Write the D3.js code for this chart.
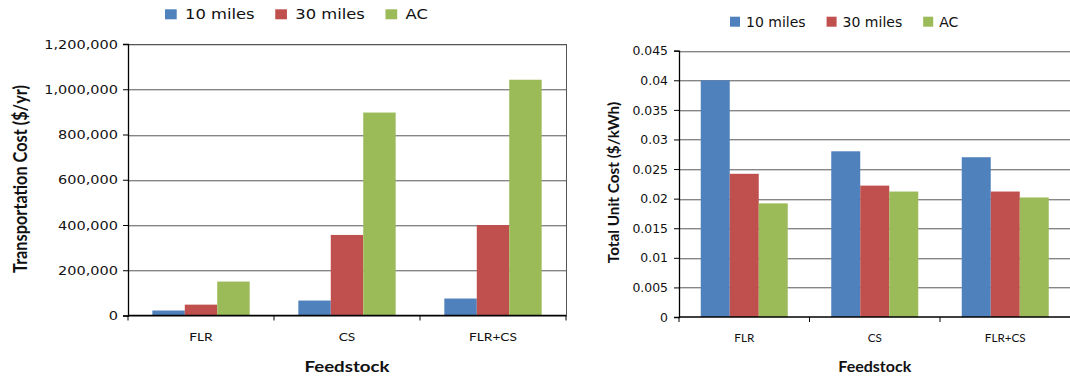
<!DOCTYPE html>
<html><head><meta charset="utf-8">
<script src="https://cdn.jsdelivr.net/npm/d3@7"></script>
<style>body{margin:0;background:#fff} svg{display:block}</style>
</head><body>
<svg id="c" width="1070" height="379"></svg>
<script>
// ---- data ----
const categories = ["FLR", "CS", "FLR+CS"];
const seriesNames = ["10 miles", "30 miles", "AC"];
const transport10 = [22000, 66000, 75000];
const transport30 = [48000, 356000, 400000];
const transportAC = [150000, 897000, 1042000];
const unit10 = [0.040, 0.028, 0.027];
const unit30 = [0.0242, 0.0222, 0.0212];
const unitAC = [0.0192, 0.0212, 0.0202];
const transportTicks = [0, 200000, 400000, 600000, 800000, 1000000, 1200000];
const unitTicks = [0, 0.005, 0.01, 0.015, 0.02, 0.025, 0.03, 0.035, 0.04, 0.045];
const colors = ["#4F81BD", "#C0504D", "#9BBB59"];

const svg = d3.select("#c");
const TICKFONT = "'DejaVu Sans', Verdana, sans-serif";
const TITLEFONT = "Lato, 'Open Sans', sans-serif";

function drawChart(cfg) {
  const g = svg.append("g");
  const x = d3.scaleBand().domain(categories).range([cfg.left, cfg.right]);
  const inner = d3.scaleBand().domain(seriesNames).range([0, x.bandwidth()]).paddingInner(0).paddingOuter(0.75);
  const y = d3.scaleLinear().domain([0, cfg.max]).range([cfg.bottom, cfg.top]);
  const sx = cfg.sx;

  // gridlines
  cfg.ticks.filter(t => t > 0).forEach(t => {
    const yy = Math.round(y(t));
    g.append("line").attr("x1", cfg.left).attr("x2", cfg.right).attr("y1", yy + 1.5).attr("y2", yy + 1.5)
      .attr("stroke", "#d0d0d0").attr("stroke-width", 1);
    g.append("line").attr("x1", cfg.left).attr("x2", cfg.right).attr("y1", yy + 0.5).attr("y2", yy + 0.5)
      .attr("stroke", "#868686").attr("stroke-width", 1);
  });
  if (cfg.border) {
    g.append("rect").attr("x", cfg.left + 0.5).attr("y", Math.round(cfg.top) + 0.5)
      .attr("width", cfg.right - cfg.left).attr("height", cfg.bottom - cfg.top)
      .attr("fill", "none").attr("stroke", "#555").attr("stroke-width", 1);
  }

  // bars
  const series = cfg.series;
  seriesNames.forEach((s, si) => {
    g.selectAll(null).data(series[si]).enter().append("rect")
      .attr("x", (d, i) => x(categories[i]) + inner(s))
      .attr("width", inner.bandwidth())
      .attr("y", d => y(d))
      .attr("height", d => y(0) - y(d))
      .attr("fill", colors[si]);
  });

  // y axis
  const ya = g.append("g").attr("transform", `translate(${cfg.left},0)`)
    .call(d3.axisLeft(y).tickValues(cfg.ticks).tickSize(5).tickFormat(cfg.fmt));
  ya.select(".domain").attr("stroke", "#000").attr("stroke-width", 1.3);
  ya.selectAll(".tick line").attr("stroke", "#000");
  ya.selectAll(".tick text").attr("x", 0).attr("dy", "0.36em")
    .attr("transform", `translate(${-cfg.tickPad},0) scale(${cfg.tickSx},1)`)
    .style("font-family", TICKFONT).style("font-size", cfg.tickSize + "px").attr("fill", "#111");

  // x axis
  const xa = g.append("g").attr("transform", `translate(0,${cfg.bottom})`);
  xa.append("line").attr("x1", cfg.left).attr("x2", cfg.right).attr("y1", 0).attr("y2", 0)
    .attr("stroke", "#000").attr("stroke-width", 1.3);
  const bounds = categories.map(c => x(c)).concat([cfg.right]);
  xa.selectAll(null).data(bounds).enter().append("line")
    .attr("x1", d => d).attr("x2", d => d).attr("y1", 0).attr("y2", 5).attr("stroke", "#000");
  xa.selectAll(null).data(categories).enter().append("text")
    .attr("transform", d => `translate(${x(d) + x.bandwidth() / 2},${cfg.catY - cfg.bottom}) scale(${sx},1)`)
    .attr("text-anchor", "middle").attr("dy", "0.36em")
    .style("font-family", TITLEFONT).style("font-size", "11.7px").attr("fill", "#111")
    .text(d => d);

  // x title
  g.append("text")
    .attr("transform", `translate(${(cfg.left + cfg.right) / 2},${cfg.xTitleY}) scale(${sx},1)`)
    .attr("text-anchor", "middle").attr("dy", "0.36em")
    .style("font-family", TITLEFONT).style("font-weight", "bold").style("font-size", "16px").attr("fill", "#111")
    .text("Feedstock");

  // y title
  g.append("text")
    .attr("transform", `translate(${cfg.yTitleX},${cfg.yTitleY}) rotate(-90) scale(1,${sx})`)
    .attr("text-anchor", "middle").attr("dy", "0.36em")
    .style("font-family", TITLEFONT).style("font-weight", "bold").style("font-size", cfg.yTitleSize + "px").attr("fill", "#111")
    .text(cfg.yTitle);

  // legend
  let lx = cfg.legendX;
  seriesNames.forEach((n, i) => {
    g.append("rect").attr("x", lx).attr("y", cfg.legendY - 5).attr("width", 10 * sx).attr("height", 10).attr("fill", colors[i]);
    const tx = lx + 10 * sx + cfg.legendGap;
    const t = g.append("text")
      .attr("transform", `translate(${tx},${cfg.legendY}) scale(${sx},1)`)
      .attr("dy", "0.36em")
      .style("font-family", TICKFONT).style("font-size", "14px").attr("fill", "#111")
      .text(n);
    const w = t.node().getComputedTextLength() * sx;
    lx = tx + w + cfg.legendSpace;
  });
}

drawChart({
  left: 128, right: 566, top: 44, bottom: 315.5, max: 1200000,
  ticks: transportTicks, fmt: d3.format(","),
  series: [transport10, transport30, transportAC],
  sx: 1.17, tickSx: 1.26, tickSize: 11.5, tickPad: 10, border: true,
  catY: 337, xTitleY: 366.5,
  yTitle: "Transportation Cost ($/yr)", yTitleX: 20.4, yTitleY: 179, yTitleSize: 16.3,
  legendX: 165, legendY: 14.3, legendGap: 8.3, legendSpace: 20.6
});

drawChart({
  left: 679, right: 1070.5, top: 50.7, bottom: 317, max: 0.045,
  ticks: unitTicks, fmt: d => String(d),
  series: [unit10, unit30, unitAC],
  sx: 1.0, tickSx: 1.08, tickSize: 11.5, tickPad: 11, border: false,
  catY: 338, xTitleY: 366.5,
  yTitle: "Total Unit Cost ($/kWh)", yTitleX: 613, yTitleY: 182.5, yTitleSize: 15.3,
  legendX: 730, legendY: 21.7, legendGap: 6, legendSpace: 21
});
</script>
</body></html>
